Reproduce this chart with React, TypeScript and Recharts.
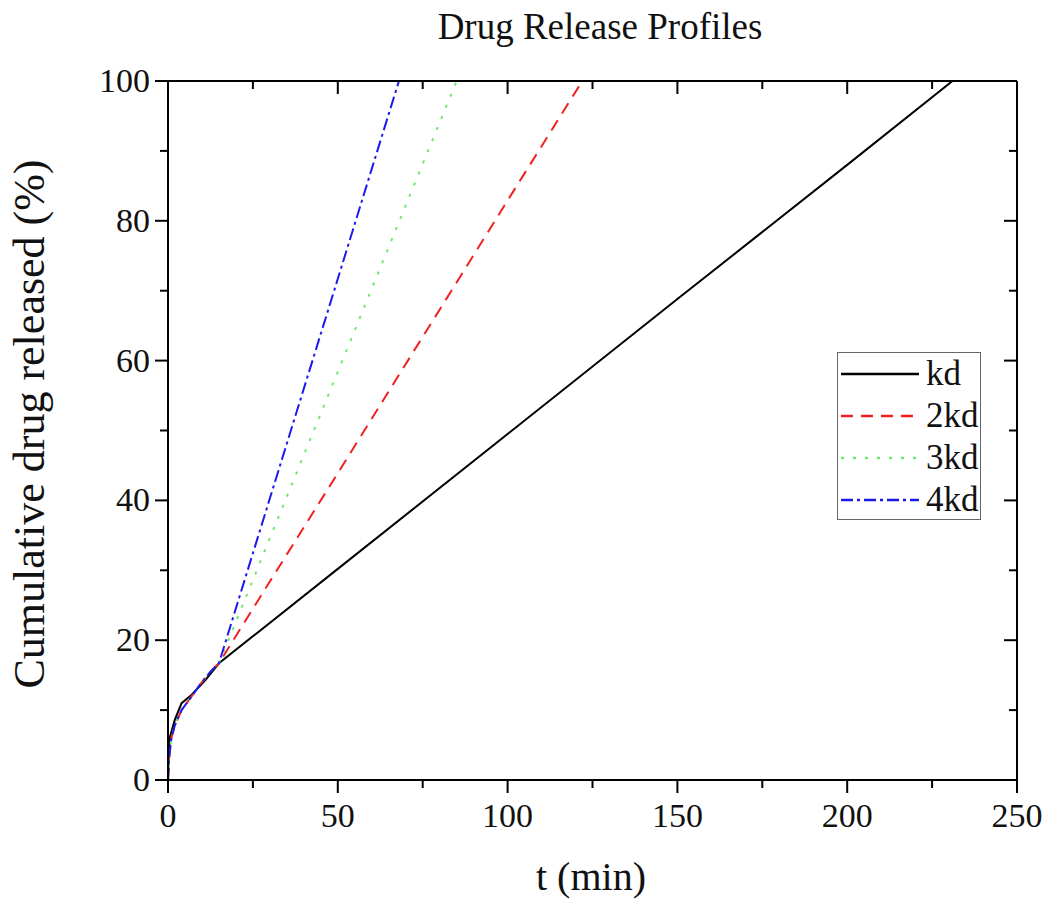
import React from 'react';
import {
  LineChart,
  Line,
  XAxis,
  YAxis,
  Legend,
  Customized,
} from 'recharts';

const FONT = '"Liberation Serif", "Times New Roman", serif';

// time (min) and cumulative release (%) for each dissolution rate
const T_KD = [0, 0.2, 0.6, 2, 4, 7, 11, 15, 50, 100, 150, 200, 231];
const V_KD = [0, 3.5, 6.2, 8.6, 11, 12.2, 14.3, 16.7, 30.2, 49.5, 68.8, 88, 100];

const T_2KD = [0, 0.3, 1, 2, 4, 7, 10, 12.5, 15, 30, 50, 75, 100, 122];
const V_2KD = [0, 3, 6, 7.8, 10, 12, 14, 15.5, 16.7, 28.4, 43.9, 63.4, 82.9, 100];

const T_3KD = [0, 0.3, 1, 2, 4, 7, 10, 12.5, 15, 30, 50, 70, 85];
const V_3KD = [0, 3, 6, 7.8, 10, 12, 14, 15.5, 16.7, 34.6, 58.4, 82.2, 100];

const T_4KD = [0, 0.3, 1, 2, 4, 7, 10, 12.5, 15, 30, 50, 68];
const V_4KD = [0, 3, 6, 7.8, 10, 12, 14, 15.5, 16.7, 40.3, 71.7, 100];

const X_TICKS = [0, 25, 50, 75, 100, 125, 150, 175, 200, 225, 250];
const Y_TICKS = [0, 10, 20, 30, 40, 50, 60, 70, 80, 90, 100];

const toPoints = (ts: number[], vs: number[]) => ts.map((t, i) => ({ t, v: vs[i] }));

const SERIES = [
  { name: 'kd', data: toPoints(T_KD, V_KD), color: '#000000', dash: undefined },
  { name: '2kd', data: toPoints(T_2KD, V_2KD), color: '#f02020', dash: '12 8' },
  { name: '3kd', data: toPoints(T_3KD, V_3KD), color: '#6ee86e', dash: '3 9' },
  { name: '4kd', data: toPoints(T_4KD, V_4KD), color: '#1a1aee', dash: '12 4 3 4' },
];

const BottomTick = (props: any) => {
  const { x, y, payload } = props;
  const major = payload.value % 50 === 0;
  return (
    <g>
      <line x1={x} x2={x} y1={y} y2={y + (major ? 13 : 8)} stroke="#000" strokeWidth={2} />
      {major && (
        <text x={x} y={y + 47} textAnchor="middle" fontFamily={FONT} fontSize={34} fill="#111">
          {payload.value}
        </text>
      )}
    </g>
  );
};

const TopTick = (props: any) => {
  const { x, y, payload } = props;
  const major = payload.value % 50 === 0;
  return <line x1={x} x2={x} y1={y} y2={y + (major ? 13 : 8)} stroke="#000" strokeWidth={2} />;
};

const LeftTick = (props: any) => {
  const { x, y, payload } = props;
  const major = payload.value % 20 === 0;
  return (
    <g>
      <line x1={x} x2={x - (major ? 13 : 8)} y1={y} y2={y} stroke="#000" strokeWidth={2} />
      {major && (
        <text x={x - 18} y={y + 11} textAnchor="end" fontFamily={FONT} fontSize={34} fill="#111">
          {payload.value}
        </text>
      )}
    </g>
  );
};

const RightTick = (props: any) => {
  const { x, y, payload } = props;
  const major = payload.value % 20 === 0;
  return <line x1={x} x2={x - (major ? 13 : 8)} y1={y} y2={y} stroke="#000" strokeWidth={2} />;
};

const renderLegend = () => (
  <div
    style={{
      width: 144,
      height: 168,
      boxSizing: 'border-box',
      border: '1.5px solid #666',
      background: '#fff',
      fontFamily: FONT,
      fontSize: 35,
      color: '#111',
    }}
  >
    {SERIES.map((s) => (
      <div key={s.name} style={{ height: 42, display: 'flex', alignItems: 'center' }}>
        <svg width={88} height={10} style={{ flex: 'none' }}>
          <line
            x1={3}
            x2={81}
            y1={5}
            y2={5}
            stroke={s.color}
            strokeWidth={2.5}
            strokeDasharray={s.dash}
          />
        </svg>
        <span style={{ lineHeight: '34px' }}>{s.name}</span>
      </div>
    ))}
  </div>
);

const Labels = () => (
  <g fontFamily={FONT} fill="#111">
    <text x={600} y={39} textAnchor="middle" fontSize={37}>
      Drug Release Profiles
    </text>
    <text x={591} y={890} textAnchor="middle" fontSize={40}>
      t (min)
    </text>
    <text
      x={44}
      y={424}
      textAnchor="middle"
      fontSize={44}
      transform="rotate(-90 44 424)"
    >
      Cumulative drug released (%)
    </text>
  </g>
);

export default function App() {
  return (
    <div style={{ position: 'absolute', left: 0, top: 0, width: 1049, height: 901, background: '#fff' }}>
      <LineChart width={1049} height={901} margin={{ top: 80, right: 31, left: 0, bottom: 0 }}>
        <XAxis
          dataKey="t"
          type="number"
          domain={[0, 250]}
          ticks={X_TICKS}
          interval={0}
          height={121}
          tickSize={0}
          tickMargin={0}
          tickLine={false}
          tick={<BottomTick />}
          axisLine={{ stroke: '#000', strokeWidth: 2 }}
          allowDataOverflow
        />
        <XAxis
          xAxisId="top"
          orientation="top"
          dataKey="t"
          type="number"
          domain={[0, 250]}
          ticks={X_TICKS}
          interval={0}
          height={1}
          tickSize={0}
          tickMargin={0}
          tickLine={false}
          tick={<TopTick />}
          axisLine={{ stroke: '#000', strokeWidth: 2 }}
          allowDataOverflow
        />
        <YAxis
          type="number"
          domain={[0, 100]}
          ticks={Y_TICKS}
          interval={0}
          width={168}
          tickSize={0}
          tickMargin={0}
          tickLine={false}
          tick={<LeftTick />}
          axisLine={{ stroke: '#000', strokeWidth: 2 }}
          allowDataOverflow
        />
        <YAxis
          yAxisId="right"
          orientation="right"
          type="number"
          domain={[0, 100]}
          ticks={Y_TICKS}
          interval={0}
          width={1}
          tickSize={0}
          tickMargin={0}
          tickLine={false}
          tick={<RightTick />}
          axisLine={{ stroke: '#000', strokeWidth: 2 }}
          allowDataOverflow
        />
        {SERIES.map((s) => (
          <Line
            key={s.name}
            data={s.data}
            dataKey="v"
            name={s.name}
            type="linear"
            stroke={s.color}
            strokeWidth={2}
            strokeDasharray={s.dash}
            dot={false}
            activeDot={false}
            isAnimationActive={false}
          />
        ))}
        <Legend
          layout="vertical"
          align="center"
          verticalAlign="middle"
          wrapperStyle={{ left: 837, top: 352, width: 144, height: 168 }}
          content={renderLegend}
        />
        <Customized component={Labels} />
      </LineChart>
    </div>
  );
}
